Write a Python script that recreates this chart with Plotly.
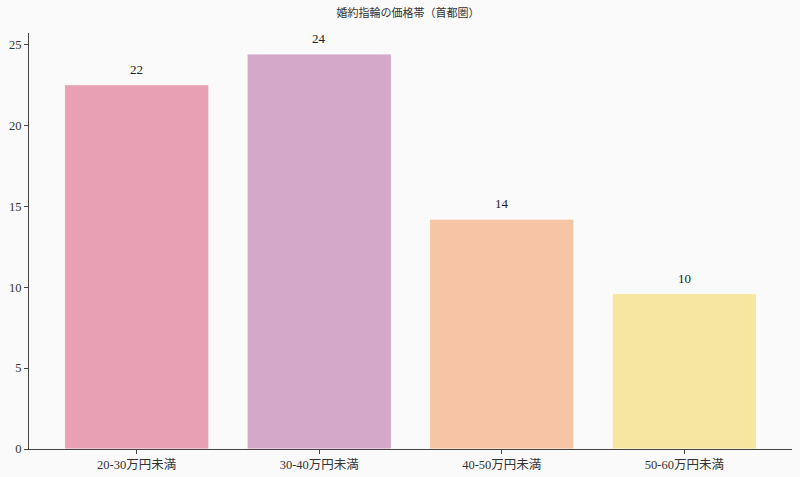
import plotly.graph_objects as go

# 価格帯ごとの割合（%）
categories = ['20-30万円未満', '30-40万円未満', '40-50万円未満', '50-60万円未満']
values = [22.5, 24.4, 14.2, 9.6]
labels = ['22', '24', '14', '10']
colors = ['#E8A0B4', '#D4A8C8', '#F5C5A5', '#F7E6A0']

font_family = 'Liberation Serif, DejaVu Serif, Noto Sans CJK JP, serif'
bg = '#FAFAFA'
ink = '#333333'

fig = go.Figure()
fig.add_trace(go.Bar(
    x=list(range(len(categories))),
    y=values,
    width=0.79,
    marker=dict(color=colors, line=dict(color='rgba(255,255,255,0.8)', width=1)),
    hoverinfo='skip',
))

# 値ラベルはバーの少し上に置く
for i, (v, lab) in enumerate(zip(values, labels)):
    fig.add_annotation(x=i, y=v, text=lab, showarrow=False,
                       yanchor='bottom', yshift=6,
                       font=dict(size=13, color='#222222', family=font_family))

fig.update_layout(
    width=800, height=477,
    paper_bgcolor=bg, plot_bgcolor=bg,
    margin=dict(l=29, r=8, t=33, b=28),
    showlegend=False,
    font=dict(family=font_family, color=ink, size=12),
    title=dict(text='婚約指輪の価格帯（首都圏）', x=0.51, xanchor='center',
               y=0.972, yanchor='middle', font=dict(size=11, color=ink)),
)
fig.update_xaxes(
    range=[-0.59, 3.59], automargin=False,
    tickmode='array', tickvals=list(range(len(categories))), ticktext=categories,
    showline=True, linecolor='#444444', linewidth=1,
    ticks='outside', ticklen=4, tickcolor='#444444',
    showgrid=False, zeroline=False, tickfont=dict(size=12.5),
)
fig.update_yaxes(
    range=[0, 25.7], automargin=False,
    tickvals=[0, 5, 10, 15, 20, 25],
    showline=True, linecolor='#444444', linewidth=1,
    ticks='outside', ticklen=4, tickcolor='#444444',
    showgrid=False, zeroline=False, tickfont=dict(size=12.5),
)

# ページ既定の余白を消して、図を左上に合わせる
fig.write_html('out.html', config={'displayModeBar': False},
               post_script="document.body.style.margin='0';"
                           "document.body.style.background='#FAFAFA';")
